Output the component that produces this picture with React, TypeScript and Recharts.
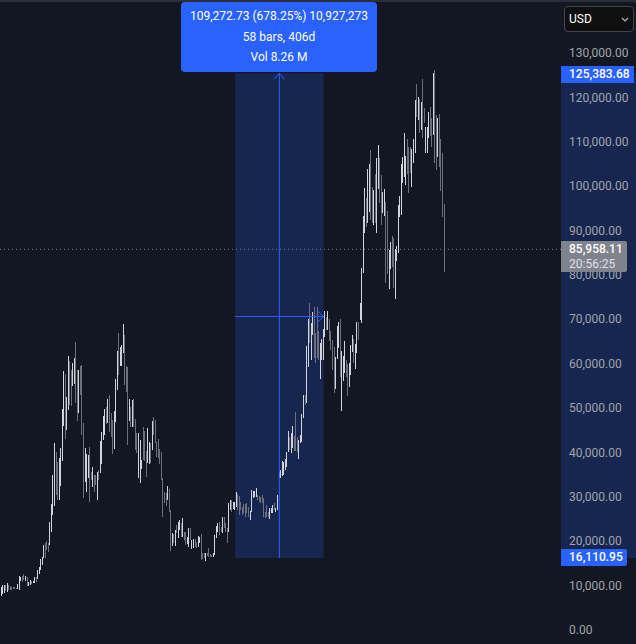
import React from "react";
import { ComposedChart, Bar, XAxis, YAxis, ReferenceArea, ReferenceLine } from "recharts";

// Weekly candle ranges, in thousands of USD
const lows = [
  7.63,8.0,8.31,8.68,8.46,8.91,8.91,8.91,9.06,9.06,
  9.06,9.06,8.91,10.94,10.78,11.16,11.01,9.81,9.81,10.03,
  10.26,10.41,10.56,10.71,11.31,12.51,13.41,14.54,16.04,16.04,
  17.92,17.55,19.05,22.06,25.81,27.84,30.32,29.19,29.19,32.35,
  38.06,45.87,43.02,44.97,49.48,50.6,50.38,54.89,55.34,51.13,
  47.07,48.88,52.86,43.84,29.72,33.33,31.07,34.08,28.82,33.7,
  32.2,31.07,32.57,29.19,33.7,35.35,37.31,42.71,43.84,46.32,
  46.47,44.59,43.32,39.56,40.69,46.85,53.99,57.37,59.39,59.39,
  62.25,55.11,53.61,41.59,47.0,45.57,45.57,45.57,40.46,39.71,
  34.08,33.1,36.1,38.21,38.06,34.45,37.46,37.23,37.46,40.46,
  43.84,41.96,38.96,38.58,37.31,33.7,25.43,28.44,27.84,29.19,
  26.56,17.77,18.82,19.43,18.82,21.68,20.7,22.43,20.78,20.78,
  20.18,19.05,19.27,18.67,20.18,18.22,18.3,18.67,18.3,18.67,
  19.58,15.67,15.82,16.04,15.52,16.57,16.42,16.42,16.42,16.42,
  16.79,20.55,22.06,21.3,22.06,21.68,22.81,22.06,19.58,22.06,
  26.94,26.56,27.16,26.94,27.69,26.94,25.81,26.94,25.81,26.19,
  25.44,26.19,25.44,24.69,26.57,29.57,29.95,29.95,29.2,28.82,
  28.59,28.59,25.29,25.06,25.44,25.44,24.99,26.19,26.19,26.94,
  26.57,26.94,34.08,34.23,34.6,34.83,35.96,36.71,40.09,40.46,
  39.71,40.84,40.31,40.31,40.09,38.44,41.97,42.34,47.6,50.61,
  50.98,59.25,64.5,60.75,66.38,61.12,60.0,61.12,60.75,56.54,
  60.75,60.75,66.01,67.51,67.51,65.11,63.0,58.5,53.39,54.14,
  60.9,63.38,57.0,49.33,56.02,57.74,57.0,52.63,54.74,57.37,
  62.63,60.0,58.65,62.4,65.26,69.77,69.02,80.29,89.45,90.8,
  91.56,94.19,92.31,91.56,91.18,91.56,89.3,99.22,96.06,91.18,
  93.81,93.21,78.18,80.06,76.68,81.19,81.79,77.06,74.43,83.14,
  84.79,92.91,93.43,100.72,102.07,100.2,102.68,98.32,102.83,99.67,
  105.08,107.33,115.6,114.85,111.99,112.59,110.71,114.1,107.33,107.33,
  110.71,111.24,108.69,111.47,105.08,103.58,106.43,104.33,98.84,93.06,80.66,
];
const highs = [
  9.66,10.03,9.96,9.96,10.41,9.96,9.81,9.66,9.66,9.51,
  9.43,10.26,12.06,11.91,12.06,12.44,12.14,11.91,10.78,11.16,
  10.94,11.01,11.76,11.91,13.41,14.17,15.89,16.42,19.05,19.43,
  19.88,19.58,24.23,28.29,34.83,41.96,40.0,37.83,38.58,40.84,
  49.63,58.27,57.59,52.48,61.65,60.52,58.49,60.0,61.12,64.73,
  58.49,58.49,59.47,59.62,46.47,40.84,39.56,39.33,41.21,35.58,
  36.55,34.83,34.83,35.58,35.96,42.41,44.59,48.13,49.63,50.23,
  51.88,52.78,48.73,47.22,49.33,56.39,62.78,66.76,63.75,64.13,
  68.86,66.38,59.47,59.09,51.88,50.23,51.73,51.96,47.37,44.22,
  44.22,42.71,38.21,45.72,44.82,40.24,45.35,42.34,42.11,47.0,
  47.97,47.22,42.34,42.87,40.61,40.09,34.08,31.07,30.69,32.35,
  31.6,26.94,21.68,21.45,22.43,23.56,24.31,24.69,23.94,25.06,
  22.06,21.91,20.78,22.81,22.81,20.18,20.48,20.33,19.8,21.08,
  20.93,21.45,17.17,17.17,17.17,17.32,18.3,17.02,16.79,17.17,
  21.3,23.33,23.94,24.31,23.18,25.29,25.29,23.94,22.81,28.44,
  29.19,29.19,28.82,28.82,31.0,30.55,30.1,28.82,27.69,28.29,
  28.29,28.44,27.69,26.79,31.45,31.3,31.3,31.82,30.32,30.1,
  29.95,30.32,29.57,26.57,28.07,26.57,27.32,27.32,28.07,28.44,
  27.32,30.32,35.58,35.96,37.98,37.83,38.44,40.09,44.75,43.47,
  44.22,45.87,43.62,49.03,43.47,42.72,43.84,48.58,52.86,52.86,
  63.9,69.91,73.52,69.01,71.57,72.62,66.76,72.62,67.29,64.5,
  65.41,67.66,71.72,70.52,71.72,69.91,67.29,65.26,63.6,61.35,
  68.41,69.39,69.91,62.78,61.65,65.03,60.75,59.85,60.0,64.13,
  66.38,65.41,64.35,69.39,69.39,73.53,81.41,93.21,99.45,97.19,
  103.8,104.93,108.08,99.82,99.07,102.68,106.21,109.21,106.21,102.45,
  98.69,99.22,96.29,94.34,85.55,87.42,88.7,88.18,85.7,86.45,
  95.69,97.72,104.93,106.43,111.84,106.73,110.56,108.69,108.69,108.24,
  110.56,119.36,122.96,119.96,119.5,118.98,124.09,117.48,113.34,113.34,
  116.72,117.85,115.22,125.52,126.11,115.97,115.22,116.2,110.49,107.33,95.91,
];
const directions = (
  "u u u d u d d d d d d u u u d d u d u u d u u d u u u u u d " +
  "d d u u u u d d u u u u d u u d d u u d d u d d d u u u d d " +
  "u d d u d u u u u d u d d d u u u d u u u d d d u d u d d d " +
  "u u u d d d u u d u d d d d d d d d d u d d u d u d u u d u " +
  "d d u u d u u d d u u d d d u d d d d u u u u d d u d d d u " +
  "u d u u u d d d d d d d d u u u u u d d d d d d d d u u u d " +
  "u u u u u u u u u d u u d d d u u u u d u u d u u d d d d u " +
  "u u u d u d d d d u u u d u u u d d u u u d u u d u u u u d " +
  "u u d d u d u u d d u u d d u u d d u u u u u u u u d d d u " +
  "u u d u d u d d u u u d d u d d u d d d d"
).split(" ");

const tickValues = [0, 10000, 20000, 30000, 40000, 50000, 60000, 70000, 80000, 90000, 100000, 110000, 120000, 130000];
const measureLow = 16110.95;
const measureHigh = 125383.68;
const measureMid = 70560;
const lastPriceLevel = 85700;
const firstBar = 153;
const lastBar = 211;
const middleBar = 182;

const data = lows.map((low, i) => ({
  bar: i,
  range: [low * 1000, highs[i] * 1000],
  dir: directions[i],
}));

const BLUE = "#2962ff";
const FONT = "Roboto, 'Liberation Sans', Arial, sans-serif";

const Candle = (props: any) => {
  const { x, y, width, height, payload } = props;
  return (
    <rect
      x={Math.round(x + width / 2 - 0.5)}
      y={y}
      width={1}
      height={height}
      shapeRendering="crispEdges"
      fill={payload.dir === "u" ? "#d1d4dc" : "#6d707a"}
    />
  );
};

const PriceTick = (props: any) => (
  <text x={569} y={props.y} dy={4.5} textAnchor="start" fontSize={12} fontFamily={FONT} fill="#a2a4ac">
    {Number(props.payload.value).toLocaleString("en-US", { minimumFractionDigits: 2, maximumFractionDigits: 2 })}
  </text>
);

const box = (left: number, top: number, width: number, height: number, bg: string): React.CSSProperties => ({
  position: "absolute",
  left,
  top,
  width,
  height,
  background: bg,
  boxSizing: "border-box",
  fontFamily: FONT,
  fontSize: 12,
  color: "#fff",
});

export default function App() {
  return (
    <div style={{ position: "absolute", left: 0, top: 0, width: 636, height: 644, background: "#131722", overflow: "hidden" }}>
      <ComposedChart width={636} height={644} data={data} margin={{ top: 0, right: 0, bottom: 0, left: 0 }} barSize={1}>
        <XAxis dataKey="bar" type="number" domain={[-0.85, 415.5]} hide allowDataOverflow />
        <YAxis
          orientation="right"
          mirror
          domain={[-3269, 141907]}
          ticks={tickValues}
          interval={0}
          allowDataOverflow
          axisLine={false}
          tickLine={false}
          tick={<PriceTick />}
        />
        <Bar dataKey="range" shape={<Candle />} isAnimationActive={false} />
        <ReferenceLine segment={[{ x: -0.85, y: lastPriceLevel }, { x: 366.4, y: lastPriceLevel }]} stroke="#787b86" strokeDasharray="1 3" />
        <ReferenceArea x1={firstBar} x2={lastBar} y1={measureLow} y2={measureHigh} fill={BLUE} fillOpacity={0.2} stroke="none" />
        <ReferenceArea x1={366.4} x2={415.5} y1={measureLow} y2={measureHigh} fill={BLUE} fillOpacity={0.2} stroke="none" />
        <ReferenceLine segment={[{ x: middleBar, y: measureLow }, { x: middleBar, y: measureHigh }]} stroke={BLUE} />
        <ReferenceLine segment={[{ x: middleBar - 3.3, y: measureHigh - 1350 }, { x: middleBar, y: measureHigh }]} stroke={BLUE} />
        <ReferenceLine segment={[{ x: middleBar + 3.3, y: measureHigh - 1350 }, { x: middleBar, y: measureHigh }]} stroke={BLUE} />
        <ReferenceLine segment={[{ x: firstBar, y: measureMid }, { x: lastBar, y: measureMid }]} stroke={BLUE} />
        <ReferenceLine segment={[{ x: lastBar - 4, y: measureMid + 1240 }, { x: lastBar, y: measureMid }]} stroke={BLUE} />
        <ReferenceLine segment={[{ x: lastBar - 4, y: measureMid - 1240 }, { x: lastBar, y: measureMid }]} stroke={BLUE} />
      </ComposedChart>

      <div style={box(0, 0, 636, 2, "#2a2e39")} />

      <div style={{ ...box(181, 2, 196, 70, BLUE), borderRadius: 4, textAlign: "center", lineHeight: "20.5px", paddingTop: 4, fontWeight: 400 }}>
        <div>109,272.73 (678.25%) 10,927,273</div>
        <div>58 bars, 406d</div>
        <div>Vol 8.26 M</div>
      </div>

      <div style={{ ...box(564, 6, 70, 26, "#0f0f0f"), border: "1px solid #434651", borderRadius: 4, lineHeight: "24px", paddingLeft: 4 }}>
        USD
        <svg width="8" height="6" style={{ position: "absolute", right: 4, top: 10 }}>
          <path d="M1 1 L4 4 L7 1" stroke="#b2b5be" strokeWidth="1.2" fill="none" />
        </svg>
      </div>

      <div style={{ ...box(561, 66, 73, 17, BLUE), lineHeight: "16px", paddingLeft: 8, fontWeight: 500 }}>125,383.68</div>
      <div style={{ ...box(561, 549, 66, 17, BLUE), lineHeight: "17px", paddingLeft: 8, fontWeight: 500, borderRadius: "0 2px 2px 0" }}>16,110.95</div>
      <div style={{ ...box(561, 241, 66, 31, "#80828c"), paddingLeft: 8, paddingTop: 1, lineHeight: "14.5px", borderRadius: "0 2px 2px 0" }}>
        <div style={{ fontWeight: 500 }}>85,958.11</div>
        <div style={{ color: "#dfe0e4" }}>20:56:25</div>
      </div>
    </div>
  );
}
